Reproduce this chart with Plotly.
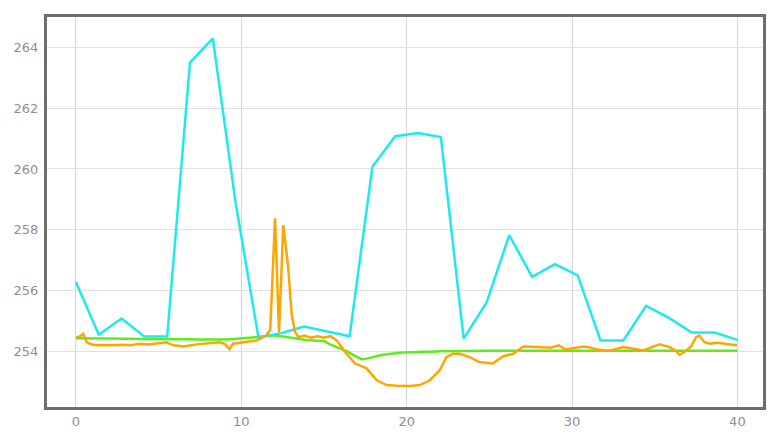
import plotly.graph_objects as go

# cyan series: 30 evenly spaced samples over 0..40
cyan_y = [256.28, 254.55, 255.08, 254.49, 254.49, 263.5, 264.3, 258.9, 254.46, 254.6,
          254.82, 254.65, 254.5, 260.07, 261.08, 261.18, 261.05, 254.42, 255.6, 257.82,
          256.45, 256.87, 256.5, 254.36, 254.36, 255.5, 255.1, 254.62, 254.62, 254.38]
cyan_x = [i * 40 / 29 for i in range(len(cyan_y))]

# green series (smooth baseline)
green_x = [0, 2, 4, 6, 8, 9.5, 11, 12, 13, 14, 15, 15.4, 16.4, 17.3, 18.4, 20, 22, 25, 30, 35, 40]
green_y = [254.43, 254.42, 254.41, 254.4, 254.39, 254.41, 254.47, 254.52, 254.45, 254.37,
           254.34, 254.22, 254.0, 253.74, 253.87, 253.97, 254.0, 254.02, 254.02, 254.02, 254.02]

# orange series (noisy measurement)
orange_x = [0.0, 0.25, 0.44, 0.65, 1.0, 1.35, 2.0, 2.86, 3.3, 3.87, 4.4, 4.98, 5.49, 5.89,
            6.5, 7.3, 7.9, 8.7, 9.0, 9.28, 9.5, 10.33, 10.93, 11.5, 11.75, 12.04, 12.28,
            12.54, 12.83, 13.05, 13.25, 13.45, 13.8, 14.2, 14.6, 15.0, 15.4, 15.77, 16.37,
            16.88, 17.58, 18.19, 18.79, 19.4, 20.2, 20.8, 21.4, 22.0, 22.4, 22.8, 23.2,
            23.8, 24.4, 25.2, 25.85, 26.45, 26.86, 27.06, 27.9, 28.7, 29.2, 29.6, 30.7,
            31.0, 31.5, 32.3, 33.1, 33.9, 34.3, 35.3, 35.9, 36.3, 36.5, 36.8, 37.2, 37.5,
            37.7, 38.0, 38.35, 38.76, 39.26, 39.97]
orange_y = [254.45, 254.5, 254.58, 254.3, 254.22, 254.2, 254.2, 254.22, 254.2, 254.25,
            254.23, 254.28, 254.3, 254.2, 254.16, 254.23, 254.25, 254.3, 254.25, 254.07,
            254.25, 254.3, 254.36, 254.52, 254.7, 258.38, 254.63, 258.15, 256.8, 255.2,
            254.65, 254.47, 254.52, 254.45, 254.5, 254.45, 254.5, 254.36, 253.92, 253.6,
            253.44, 253.05, 252.89, 252.87, 252.86, 252.89, 253.05, 253.38, 253.81, 253.92,
            253.92, 253.81, 253.65, 253.6, 253.84, 253.92, 254.09, 254.16, 254.14, 254.12,
            254.2, 254.06, 254.16, 254.14, 254.06, 254.02, 254.14, 254.06, 254.03, 254.23,
            254.14, 254.01, 253.89, 253.98, 254.16, 254.47, 254.52, 254.3, 254.25, 254.28,
            254.25, 254.2]

x_ticks = [0, 10, 20, 30, 40]
y_ticks = [254, 256, 258, 260, 262, 264]

fig = go.Figure()
fig.add_trace(go.Scatter(x=green_x, y=green_y, mode="lines",
                         line=dict(color="#5eec1a", width=2.5, shape="spline", smoothing=0.6)))
fig.add_trace(go.Scatter(x=cyan_x, y=cyan_y, mode="lines",
                         line=dict(color="#1ee8f0", width=2.5)))
fig.add_trace(go.Scatter(x=orange_x, y=orange_y, mode="lines",
                         line=dict(color="#ffa500", width=2.5)))

# the page adds an 8px body margin, so the margins are shifted to compensate
fig.update_layout(
    width=783, height=442,
    margin=dict(l=39, r=28, t=6, b=43),
    paper_bgcolor="white", plot_bgcolor="white",
    showlegend=False,
    font=dict(family="DejaVu Sans", size=13, color="#8f8f8f"),
)
fig.update_xaxes(range=[-1.75, 41.55], tickvals=x_ticks, showgrid=True,
                 gridcolor="#d4d4d4", gridwidth=1, zeroline=False,
                 showline=True, mirror=True, linecolor="#6e6e6e", linewidth=3,
                 ticks="", ticklabelstandoff=0)
fig.update_yaxes(range=[252.17, 265.0], tickvals=y_ticks, showgrid=True,
                 gridcolor="#e0e0e0", gridwidth=1, zeroline=False,
                 showline=True, mirror=True, linecolor="#6e6e6e", linewidth=3,
                 ticks="", ticklabelstandoff=3)

fig.write_html("out.html")
